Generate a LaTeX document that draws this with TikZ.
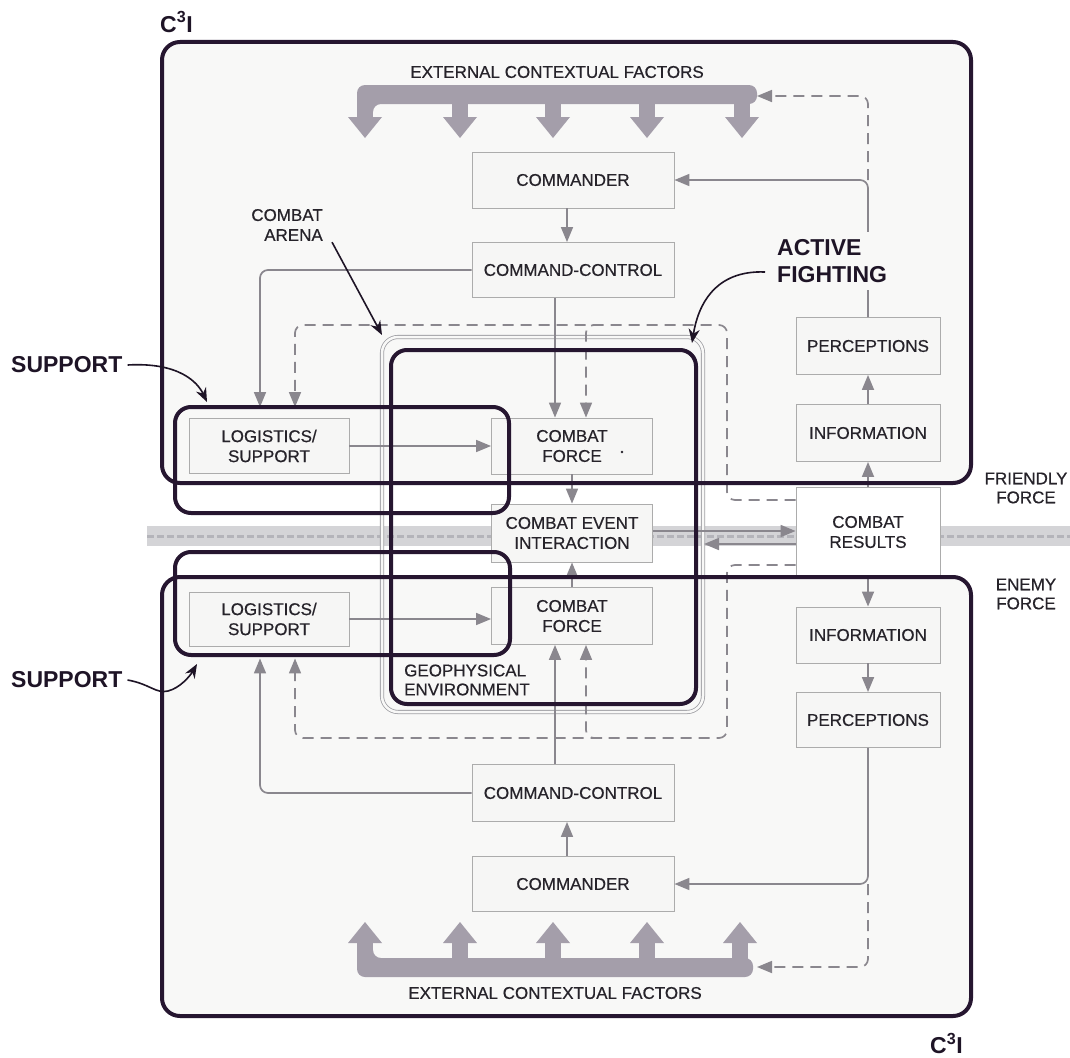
\documentclass[tikz,border=0pt]{standalone}
\usepackage{fontspec}
\setmainfont{Liberation Sans}
\newfontfamily\labfont[FakeBold=0.5]{Liberation Sans}
\usetikzlibrary{arrows.meta,calc}
\definecolor{bgc}{RGB}{248,248,247}
\definecolor{boxf}{RGB}{246,246,245}
\definecolor{boxc}{RGB}{172,172,172}
\definecolor{connc}{RGB}{138,135,142}
\definecolor{heavyc}{RGB}{38,22,48}
\definecolor{barc}{RGB}{164,158,170}
\definecolor{bandc}{RGB}{212,212,215}
\definecolor{bandl}{RGB}{180,180,186}
\definecolor{arenac}{RGB}{160,160,165}
\definecolor{txtc}{RGB}{38,35,42}
\definecolor{boldc}{RGB}{30,20,38}
\tikzset{
  lab/.style={font=\labfont\fontsize{17}{20}\selectfont, text=txtc},
  bx/.style={draw=boxc, line width=0.9pt, fill=boxf, inner sep=0pt, align=center, lab},
  conn/.style={draw=connc, line width=1.7pt, rounded corners=8pt, -{Triangle[length=15pt,width=12pt]}},
  dconn/.style={conn, dash pattern=on 11pt off 7pt},
  heavy/.style={draw=heavyc, line width=4pt},
  boldlab/.style={font=\fontsize{23}{27}\selectfont\bfseries, text=boldc, inner sep=2pt},
  annot/.style={draw=boldc, line width=1.6pt, -{Stealth[length=14pt,width=11pt]}},
}
\begin{document}
\begin{tikzpicture}[x=1pt,y=-1pt]
\useasboundingbox[fill=white] (0,0) rectangle (1070,1057);

% big box interiors
\fill[bgc, rounded corners=18pt] (162,42) rectangle (971,483);
\fill[bgc, rounded corners=18pt] (162,577) rectangle (971,1016);

% friendly / enemy separation band
\fill[bandc] (147,526) rectangle (1070,546);
\draw[bandl, line width=3pt, dash pattern=on 7pt off 3pt] (147,536) -- (1070,536);

% combat arena
\draw[arenac, line width=0.8pt, double=bgc, double distance=2.5pt, rounded corners=16pt] (382,337) rectangle (703,712);

% external contextual factors bars
\fill[barc, rounded corners=8pt] (357,118) -- (357,85) -- (757,85) -- (757,104) -- (373,104) -- (373,118) -- cycle;
\foreach \xx in {365,460,553,647,742}{
  \fill[barc] (\xx-8,100) rectangle (\xx+8,118);
  \fill[barc] (\xx-17,117) -- (\xx+17,117) -- (\xx,138) -- cycle;
}
\fill[barc, rounded corners=8pt] (357,942) -- (357,977) -- (753,977) -- (753,958) -- (373,958) -- (373,942) -- cycle;
\foreach \xx in {365,460,553,647,740}{
  \fill[barc] (\xx-8,942) rectangle (\xx+8,962);
  \fill[barc] (\xx-17,943) -- (\xx+17,943) -- (\xx,922) -- cycle;
}

% boxes
\node[bx, minimum width=202, minimum height=56] (cmdT) at (573,180) {COMMANDER};
\node[bx, minimum width=202, minimum height=55] (ccT) at (573,270) {COMMAND-CONTROL};
\node[bx, minimum width=160, minimum height=55] (logT) at (269,446) {LOGISTICS/\\SUPPORT};
\node[bx, minimum width=161, minimum height=56] (cfT) at (572,446) {COMBAT\\FORCE};
\node[bx, minimum width=161, minimum height=58] (cei) at (572,533) {COMBAT EVENT\\INTERACTION};
\node[bx, minimum width=161, minimum height=57] (cfB) at (572,616) {COMBAT\\FORCE};
\node[bx, minimum width=160, minimum height=54] (logB) at (269,619) {LOGISTICS/\\SUPPORT};
\node[bx, minimum width=202, minimum height=57] (ccB) at (573,793) {COMMAND-CONTROL};
\node[bx, minimum width=202, minimum height=55] (cmdB) at (573,884) {COMMANDER};
\node[bx, minimum width=144, minimum height=57] (percT) at (868,346) {PERCEPTIONS};
\node[bx, minimum width=144, minimum height=57] (infoT) at (868,433) {INFORMATION};
\node[bx, minimum width=144, minimum height=90, fill=white] (res) at (868,532) {COMBAT\\RESULTS};
\node[bx, minimum width=144, minimum height=56] (infoB) at (868,635) {INFORMATION};
\node[bx, minimum width=144, minimum height=55] (percB) at (868,720) {PERCEPTIONS};
\fill[txtc] (622,452) circle (1.3pt);

% helper coordinates
\coordinate (xA) at (567,0);
\coordinate (xB) at (555,0);
\coordinate (xC) at (586,0);
\coordinate (xLa) at (260,0);
\coordinate (xLb) at (295,0);
\coordinate (xD) at (727,0);
\coordinate (yDt) at (0,325);
\coordinate (yDb) at (0,738);
\coordinate (yR1) at (0,500);
\coordinate (yR2) at (0,565);
\coordinate (yE1) at (0,531);
\coordinate (yE2) at (0,544);
\coordinate (barTR) at (757,96);
\coordinate (barBR) at (757,967);
\coordinate (arenaR) at (704,544);
\coordinate (brT) at (602,325);
\coordinate (brB) at (602,738);

% connectors (top half)
\draw[conn] (cmdT.south -| xA) -- (ccT.north -| xA);
\draw[conn, shorten >=11pt] (ccT.west) -| (logT.north -| xLa);
\draw[conn] (ccT.south -| xB) -- (cfT.north -| xB);
\draw[conn] (logT.east) -- (cfT.west |- logT.east);
\draw[conn] (cfT.south) -- (cei.north);
\draw[dconn, shorten >=11pt] (res.west |- yR1) -| (xD |- yDt) -| (logT.north -| xLb);
\draw[dconn] (brT) -| (cfT.north -| xC);
\draw[conn] (res.north) -- (infoT.south);
\draw[conn] (infoT.north) -- (percT.south);
\draw[conn] (percT.north) |- (cmdT.east);
\draw[dconn] (percT.north |- cmdT.east) |- (barTR);

% middle
\draw[conn] (cei.east |- yE1) -- (res.west |- yE1);
\draw[conn] (res.west |- yE2) -- (arenaR);

% connectors (bottom half)
\draw[conn] (cfB.north) -- (cei.south);
\draw[conn] (cmdB.north -| xA) -- (ccB.south -| xA);
\draw[conn] (ccB.north -| xB) -- (cfB.south -| xB);
\draw[conn, shorten >=12pt] (ccB.west) -| (logB.south -| xLa);
\draw[conn] (logB.east) -- (cfB.west |- logB.east);
\draw[dconn, shorten >=12pt] (res.west |- yR2) -| (xD |- yDb) -| (logB.south -| xLb);
\draw[dconn] (brB) -| (cfB.south -| xC);
\draw[conn] (res.south) -- (infoB.north);
\draw[conn] (infoB.south) -- (percB.north);
\draw[conn] (percB.south) |- (cmdB.east);
\draw[dconn] (percB.south |- cmdB.east) |- (barBR);

% heavy outlines
\draw[heavy, rounded corners=18pt] (162,42) rectangle (971,483);
\draw[heavy, rounded corners=18pt] (162,577) rectangle (971,1016);
\draw[heavy, rounded corners=16pt] (175,407) rectangle (509,513);
\draw[heavy, rounded corners=16pt] (175,552) rectangle (510,655);
\draw[heavy, rounded corners=16pt] (391,350) rectangle (696,704);

% labels
\node[boldlab, anchor=west] (c3T) at (158,22) {C\textsuperscript{3}I};
\node[boldlab, anchor=west] (c3B) at (928,1043) {C\textsuperscript{3}I};
\node[lab] (extT) at (557,72) {EXTERNAL CONTEXTUAL FACTORS};
\node[lab] (extB) at (555,993) {EXTERNAL CONTEXTUAL FACTORS};
\node[lab, anchor=east, align=right, inner sep=1pt] (arenaL) at (324,225) {COMBAT\\ARENA};
\node[lab, anchor=west, align=left, inner sep=0pt, font=\labfont\fontsize{17}{19}\selectfont] (geo) at (404,680) {GEOPHYSICAL\\ENVIRONMENT};
\node[lab, align=center, font=\labfont\fontsize{17}{19}\selectfont] (fri) at (1026,488) {FRIENDLY\\FORCE};
\node[lab, align=center, font=\labfont\fontsize{17}{19}\selectfont] (ene) at (1026,594) {ENEMY\\FORCE};
\node[boldlab, anchor=west, align=left, fill=bgc, inner ysep=7pt] (act) at (775,261) {ACTIVE\\FIGHTING};
\node[boldlab, anchor=west] (supT) at (9,365) {SUPPORT};
\node[boldlab, anchor=west] (supB) at (9,680) {SUPPORT};

% annotation arrows
\coordinate (arenaTip) at (382,335);
\coordinate (actTip) at (692,343);
\coordinate (supTtip) at (207,402);
\coordinate (supBtip) at (197,664);
\draw[annot] ([xshift=8pt]arenaL.south east) -- (arenaTip);
\draw[annot] ([xshift=-10pt,yshift=-11pt]act.west) .. controls (715,270) and (698,305) .. (actTip);
\draw[annot] ([xshift=3pt]supT.east) .. controls (180,362) and (198,383) .. (supTtip);
\draw[annot] ([xshift=3pt]supB.east) .. controls (150,684) and (156,694) .. (168,691) .. controls (180,688) and (190,676) .. (supBtip);
\end{tikzpicture}
\end{document}
